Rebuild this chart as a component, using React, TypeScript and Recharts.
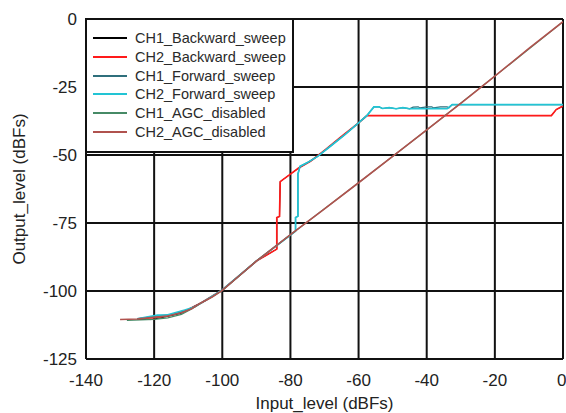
import React from "react";
import {
  LineChart,
  Line,
  XAxis,
  YAxis,
  CartesianGrid,
  Legend,
  Label,
} from "recharts";

type Pt = { x: number; y: number };
const pts = (rows: number[][]): Pt[] => rows.map(([x, y]) => ({ x, y }));

// input level (dBFs) -> output level (dBFs)
const ch1Backward = pts([
  [0, -32], [-2, -33.3], [-3.4, -35.5], [-57.5, -35.5], [-60, -38.2],
  [-65, -43.2], [-70, -48.3], [-74, -52.2], [-77.7, -54.9], [-80.2, -57.2],
  [-83, -59.8], [-83.2, -72.6], [-84, -73], [-84, -84.6], [-90, -89],
  [-100, -99.6], [-106, -104.2], [-112, -108.2], [-117, -109.6], [-121, -110.5],
  [-125, -110.4],
]);

const ch2Backward = pts([
  [0, -32], [-2, -33.3], [-3.4, -35.5], [-57.5, -35.5], [-60, -38.2],
  [-65, -43.2], [-70, -48.3], [-74, -52.2], [-77.7, -54.9], [-80.2, -57.2],
  [-83, -59.8], [-83.2, -72.6], [-84, -73], [-84, -84.6], [-90, -89],
  [-100, -99.6], [-106, -104.2], [-110, -106.8], [-116, -109.1], [-120, -109.8],
  [-125, -110.2],
]);

const ch1Forward = pts([
  [-125, -110.2], [-119, -109.1], [-114, -108.5], [-110, -106.8], [-105, -103.6],
  [-100, -99.6], [-90, -89], [-80, -79.4], [-78.5, -78], [-78.5, -73],
  [-77.8, -72.5], [-77.8, -57], [-77.2, -54.2], [-75, -52.8], [-72, -50.5],
  [-68, -46.5], [-64, -42.5], [-60, -38.2], [-57.5, -35.4], [-55.5, -32.3],
  [-54, -32.3], [-53, -32.9], [-51, -32.6], [-49, -33], [-47, -32.6],
  [-45, -33], [-44, -32.4], [-42.5, -32.3], [-42, -32.7], [-40, -32.3],
  [-38.5, -32.3], [-38, -32.7], [-36, -32.3], [-34, -32.3], [-33.5, -32.7],
  [-32.5, -31.5], [0, -31.5],
]);

const ch2Forward = pts([
  [-125, -110.2], [-119, -108.9], [-116, -108.8], [-111, -107], [-108, -105.8],
  [-105, -103.5], [-100, -99.6], [-90, -89], [-80, -79.4], [-78.5, -78],
  [-78.5, -73], [-77.8, -72.5], [-77.8, -57], [-77.2, -54.2], [-75, -52.8],
  [-72, -50.5], [-68, -46.5], [-64, -42.5], [-60, -38.2], [-57.5, -35.4],
  [-55.5, -32.3], [-54, -32.3], [-53, -32.9], [-51, -32.6], [-49, -33],
  [-47, -32.6], [-45, -33], [-43, -32.9], [-40, -33], [-37, -32.9],
  [-34, -33], [-32.5, -31.5], [0, -31.5],
]);

const ch1AgcDisabled = pts([
  [-128, -110.8], [-124, -110.6], [-120, -110.4], [-116, -109.9], [-112, -108.6],
  [-109, -106.6], [-106, -104.2], [-103, -102.2], [-100, -99.8], [-90, -89],
  [-80, -79.3], [-60, -60.2], [-40, -40.8], [-20, -21], [0, -1],
]);

const ch2AgcDisabled = pts([
  [-130, -110.5], [-125, -110.3], [-121, -109.8], [-116, -109.2], [-112, -108],
  [-109, -106.5], [-106, -104.2], [-103, -102.2], [-100, -99.8], [-95, -94.4],
  [-90, -89], [-80, -79.3], [-70, -69.8], [-60, -60.2], [-50, -50.5],
  [-40, -40.8], [-30, -31], [-20, -21], [-10, -10.8], [0, -1],
]);

const xTicks = [-140, -120, -100, -80, -60, -40, -20, 0];
const yTicks = [-125, -100, -75, -50, -25, 0];

const series = [
  { name: "CH1_Backward_sweep", data: ch1Backward, color: "#000000", width: 1 },
  { name: "CH2_Backward_sweep", data: ch2Backward, color: "#ff1a1a", width: 1.7 },
  { name: "CH1_Forward_sweep", data: ch1Forward, color: "#2f6f7c", width: 1.2 },
  { name: "CH2_Forward_sweep", data: ch2Forward, color: "#22c4d4", width: 1.7 },
  { name: "CH1_AGC_disabled", data: ch1AgcDisabled, color: "#468a66", width: 1.2 },
  { name: "CH2_AGC_disabled", data: ch2AgcDisabled, color: "#b0524e", width: 1.6 },
];
const order = series.map((s) => s.name);

const renderLegend = (props: any) => {
  const items = [...(props.payload || [])].sort(
    (a: any, b: any) => order.indexOf(a.value) - order.indexOf(b.value)
  );
  return (
    <div
      style={{
        background: "#fff",
        border: "2px solid #111",
        boxSizing: "border-box",
        width: 209,
        height: 135,
        paddingTop: 9,
      }}
    >
      {items.map((p: any) => (
        <div
          key={p.value}
          style={{ display: "flex", alignItems: "center", height: 18.7 }}
        >
          <svg width={42} height={4} style={{ marginLeft: 6 }}>
            <line x1={0} y1={2} x2={34} y2={2} stroke={p.color} strokeWidth={2} />
          </svg>
          <span style={{ fontSize: 14.5, color: "#2a2a2a", whiteSpace: "nowrap" }}>
            {p.value}
          </span>
        </div>
      ))}
    </div>
  );
};

export default function App() {
  return (
    <div
      style={{
        position: "absolute",
        left: 0,
        top: 0,
        fontFamily: "'Liberation Sans', Arial, sans-serif",
        background: "#fff",
      }}
    >
      <LineChart
        width={566}
        height={413}
        margin={{ top: 19, right: 3, bottom: 0, left: 0 }}
      >
        <CartesianGrid stroke="#111" strokeWidth={2} />
        <XAxis
          type="number"
          dataKey="x"
          domain={[-140, 0]}
          ticks={xTicks}
          allowDataOverflow
          height={54}
          tickSize={0}
          tickMargin={15}
          axisLine={false}
          tick={{ fontSize: 17, fill: "#222" }}
        >
          <Label
            value="Input_level (dBFs)"
            position="insideBottom"
            offset={4}
            style={{ fontSize: 17, fill: "#222" }}
          />
        </XAxis>
        <YAxis
          type="number"
          dataKey="y"
          domain={[-125, 0]}
          ticks={yTicks}
          allowDataOverflow
          width={86}
          tickSize={0}
          tickMargin={9}
          axisLine={false}
          tick={{ fontSize: 17, fill: "#222" }}
        >
          <Label
            value="Output_level (dBFs)"
            angle={-90}
            position="insideLeft"
            offset={19}
            style={{ fontSize: 17, fill: "#222", textAnchor: "middle" }}
          />
        </YAxis>
        <Legend
          layout="vertical"
          align="center"
          verticalAlign="middle"
          content={renderLegend}
          wrapperStyle={{ left: 85, top: 18, width: 209, height: 135 }}
        />
        {series.map((s) => (
          <Line
            key={s.name}
            name={s.name}
            data={s.data}
            dataKey="y"
            type="linear"
            stroke={s.color}
            strokeWidth={s.width}
            dot={false}
            activeDot={false}
            isAnimationActive={false}
          />
        ))}
      </LineChart>
    </div>
  );
}
